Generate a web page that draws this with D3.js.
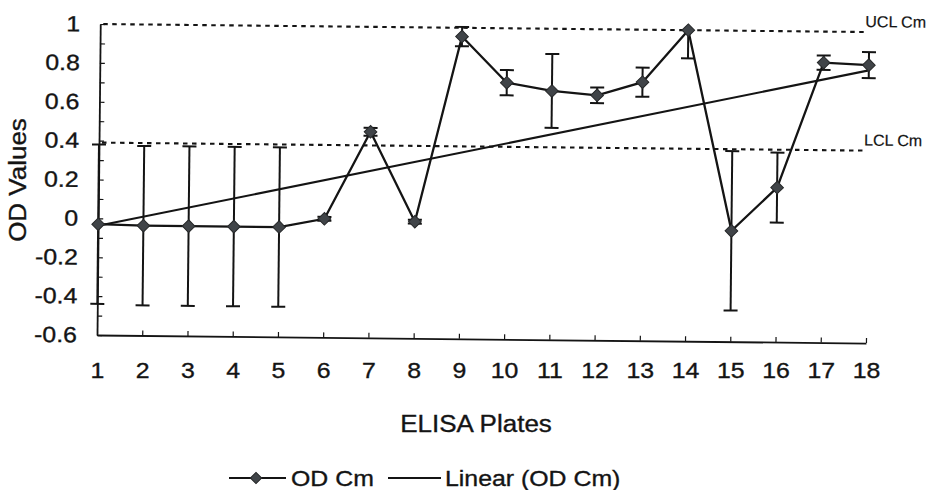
<!DOCTYPE html>
<html>
<head>
<meta charset="utf-8">
<script src="https://cdn.jsdelivr.net/npm/d3@7"></script>
<style>
  body { margin: 0; background: #fff; }
  svg { display: block; }
  svg text { stroke: #141414; stroke-width: 0.35px; }
</style>
</head>
<body>
<svg id="chart" width="934" height="490"></svg>
<script>
// Plate numbers on the x axis
const plates = [1, 2, 3, 4, 5, 6, 7, 8, 9, 10, 11, 12, 13, 14, 15, 16, 17, 18];
// Mean OD per plate and its error bar half-width
const odCm  = [-0.03, -0.035, -0.035, -0.035, -0.035, 0.01, 0.46, 0.0, 0.955, 0.72, 0.68, 0.66, 0.73, 1.0, -0.03, 0.195, 0.84, 0.83];
const odErr = [0.41, 0.41, 0.41, 0.41, 0.41, 0.01, 0.02, 0.01, 0.05, 0.065, 0.19, 0.04, 0.075, 0.145, 0.41, 0.18, 0.037, 0.067];
// Control limits
const uclCm = 1.0;
const lclCm = 0.39;
// Y axis labels
const yTicks = [1, 0.8, 0.6, 0.4, 0.2, 0, -0.2, -0.4, -0.6];
const yTickLabels = ["1", "0.8", "0.6", "0.4", "0.2", "0", "-0.2", "-0.4", "-0.6"];
const yMinorTicks = d3.range(-6, 11).map(d => d / 10);

const FONT = "'Liberation Sans', Arial, Helvetica, sans-serif";
const INK = "#141414";
const SX = 1.13; // printed lettering runs a little wide

const plot = { left: 97, right: 866, top: 24, bottom: 335 };

const svg = d3.select("#chart");
// the plotting frame sits slightly askew on the page
const root = svg.append("g").attr("transform", `rotate(0.6, ${plot.left}, ${plot.bottom})`);

const x = d3.scaleLinear().domain([1, 18]).range([plot.left, plot.right]);
const y = d3.scaleLinear().domain([-0.6, 1]).range([plot.bottom, plot.top]);

// --- axes ---
const yAxisG = root.append("g")
  .attr("transform", `translate(${plot.left},0)`)
  .call(d3.axisLeft(y).tickValues(yMinorTicks).tickSize(-5).tickSizeOuter(0).tickFormat(""));
yAxisG.select(".domain").remove();
yAxisG.selectAll(".tick line").attr("stroke", INK).attr("stroke-width", 1.2);

const yLabelG = root.append("g")
  .attr("transform", `translate(${plot.left},0)`)
  .call(d3.axisLeft(y).tickValues(yTicks).tickSize(0).tickSizeOuter(0).tickPadding(20)
        .tickFormat((d, i) => yTickLabels[i]));
yLabelG.select(".domain").attr("stroke", INK).attr("stroke-width", 1.8);
yLabelG.selectAll(".tick text")
  .attr("font-family", FONT).attr("font-size", 22).attr("fill", INK)
  .attr("x", -20 / SX).attr("transform", `scale(${SX},1)`);

const xAxisG = root.append("g")
  .attr("transform", `translate(0,${plot.bottom})`)
  .call(d3.axisBottom(x).tickValues(plates).tickSize(-5).tickSizeOuter(0).tickFormat(""));
xAxisG.select(".domain").attr("stroke", INK).attr("stroke-width", 1.8);
xAxisG.selectAll(".tick line").attr("stroke", INK).attr("stroke-width", 1.2);
xAxisG.selectAll(".tick").filter(d => d === 1).select("line").remove();

// x tick labels stay level across the page
const xLabelG = svg.append("g")
  .attr("transform", `translate(0,${plot.bottom})`)
  .call(d3.axisBottom(x).tickValues(plates).tickSize(0).tickPadding(27).tickFormat(d3.format("d")));
xLabelG.select(".domain").remove();
xLabelG.selectAll(".tick text")
  .attr("font-family", FONT).attr("font-size", 22).attr("fill", INK)
  .attr("transform", `scale(${SX},1)`);

// --- control limits ---
[[uclCm, "UCL Cm"], [lclCm, "LCL Cm"]].forEach(([v, name]) => {
  root.append("line")
    .attr("x1", x(1) + 3).attr("x2", x(18) - 3)
    .attr("y1", y(v)).attr("y2", y(v))
    .attr("stroke", INK).attr("stroke-width", 2.1).attr("stroke-dasharray", "4.5,4.5");
  root.append("text")
    .attr("x", x(18) - 4).attr("y", y(v) - 5)
    .attr("font-family", FONT).attr("font-size", 16).attr("fill", INK)
    .style("stroke-width", "0.2px")
    .text(name);
});

// --- linear trend of the OD series (least squares) ---
const mx = d3.mean(plates), my = d3.mean(odCm);
const slope = d3.sum(plates, (p, i) => (p - mx) * (odCm[i] - my)) / d3.sum(plates, p => (p - mx) ** 2);
const icpt = my - slope * mx;
root.append("line")
  .attr("x1", x(1)).attr("y1", y(icpt + slope * 1))
  .attr("x2", x(18)).attr("y2", y(icpt + slope * 18))
  .attr("stroke", INK).attr("stroke-width", 2.1);

// --- error bars (clipped to the plot area) ---
root.append("clipPath").attr("id", "plotClip")
  .append("rect").attr("x", plot.left - 10).attr("y", plot.top - 2)
  .attr("width", plot.right - plot.left + 20).attr("height", plot.bottom - plot.top + 2);

const errG = root.append("g").attr("clip-path", "url(#plotClip)")
  .attr("stroke", INK).attr("stroke-width", 2);
plates.forEach((p, i) => {
  const hi = y(odCm[i] + odErr[i]), lo = y(odCm[i] - odErr[i]);
  errG.append("line").attr("x1", x(p)).attr("x2", x(p)).attr("y1", hi).attr("y2", lo);
  errG.append("line").attr("x1", x(p) - 7).attr("x2", x(p) + 7).attr("y1", hi).attr("y2", hi);
  errG.append("line").attr("x1", x(p) - 7).attr("x2", x(p) + 7).attr("y1", lo).attr("y2", lo);
});

// --- OD series ---
root.append("path")
  .datum(plates.map((p, i) => [p, odCm[i]]))
  .attr("fill", "none").attr("stroke", INK).attr("stroke-width", 2.3)
  .attr("d", d3.line().x(d => x(d[0])).y(d => y(d[1])));

const diamond = d3.symbol(d3.symbolSquare, 80);
root.selectAll(".pt").data(plates).join("path")
  .attr("class", "pt")
  .attr("d", diamond)
  .attr("transform", (p, i) => `translate(${x(p)},${y(odCm[i])}) rotate(45)`)
  .attr("fill", "#404448").attr("stroke", "#262829").attr("stroke-width", 1);

// --- axis titles ---
svg.append("text")
  .attr("transform", `translate(476,432) scale(${SX},1)`)
  .attr("text-anchor", "middle")
  .attr("font-family", FONT).attr("font-size", 23).attr("fill", INK)
  .text("ELISA Plates");

svg.append("text")
  .attr("transform", `translate(26,180) rotate(-90) scale(${SX},1)`)
  .attr("text-anchor", "middle")
  .attr("font-family", FONT).attr("font-size", 23).attr("fill", INK)
  .text("OD Values");

// --- legend ---
const lg = svg.append("g").attr("transform", "translate(0,478)");
lg.append("line").attr("x1", 229).attr("x2", 286).attr("stroke", INK).attr("stroke-width", 2);
lg.append("path").attr("d", d3.symbol(d3.symbolSquare, 64)).attr("transform", "translate(256,0) rotate(45)")
  .attr("fill", "#404448").attr("stroke", "#262829");
lg.append("text").attr("transform", `translate(291,7.5) scale(${SX},1)`)
  .attr("font-family", FONT).attr("font-size", 22).attr("fill", INK).text("OD Cm");
lg.append("line").attr("x1", 388).attr("x2", 441).attr("stroke", INK).attr("stroke-width", 2);
lg.append("text").attr("transform", `translate(445,7.5) scale(${SX},1)`)
  .attr("font-family", FONT).attr("font-size", 22).attr("fill", INK).text("Linear (OD Cm)");
</script>
</body>
</html>
